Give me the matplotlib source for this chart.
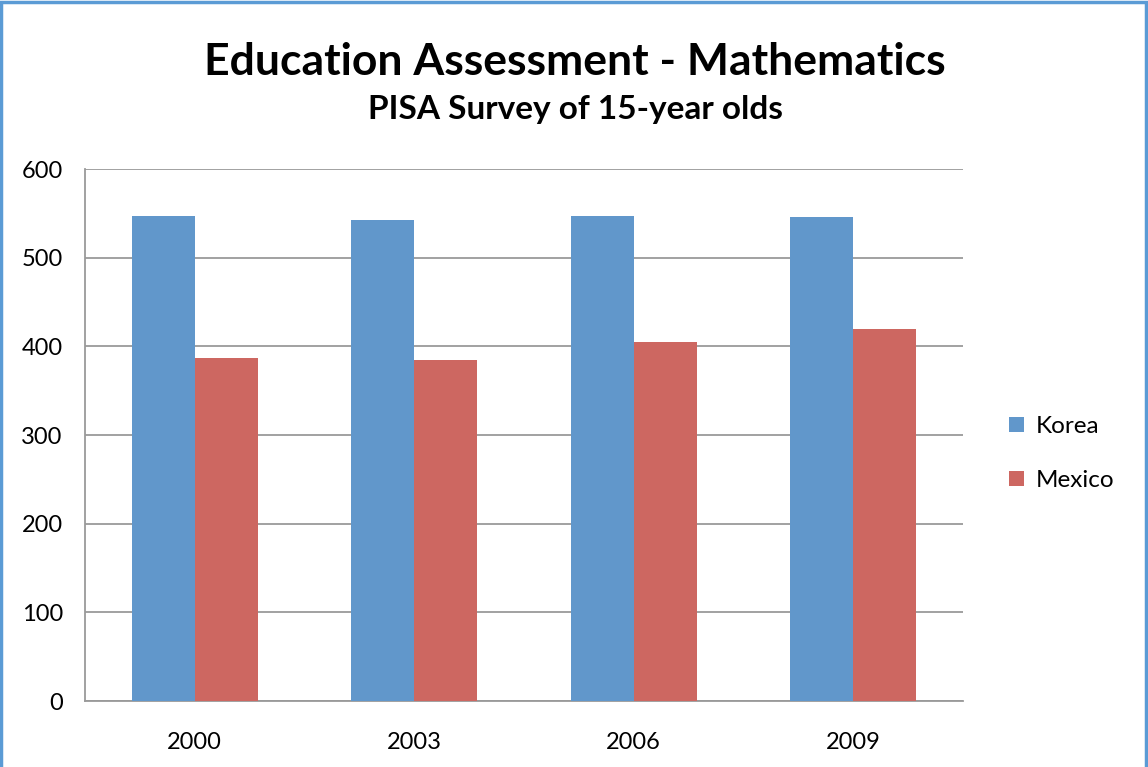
import matplotlib.pyplot as plt
import numpy as np
from matplotlib.patches import Rectangle

# data
years = ["2000", "2003", "2006", "2009"]
korea = [547, 542, 547, 546]
mexico = [387, 385, 405, 419]

plt.rcParams['font.family'] = ['Lato', 'DejaVu Sans']

fig = plt.figure(figsize=(11.48, 7.67), dpi=100)
ax = fig.add_axes([85 / 1148, 1 - 701 / 767, 878 / 1148, 532 / 767])

x = np.arange(len(years))
w = 0.287
ax.bar(x - w / 2, korea, w, color="#6197CB", label="Korea", zorder=3)
ax.bar(x + w / 2, mexico, w, color="#CD6761", label="Mexico", zorder=3)

ax.set_xlim(-0.5, len(years) - 0.5)
ax.set_ylim(0, 600)
ax.set_yticks(range(0, 601, 100))
ax.set_xticks(x)
ax.set_xticklabels(years)
ax.tick_params(axis="both", length=0, labelsize=17)
ax.tick_params(axis="y", pad=16)
ax.tick_params(axis="x", pad=22)
ax.grid(axis="y", color="#9a9a9a", linewidth=1.3, zorder=0)

for side in ["top", "right"]:
    ax.spines[side].set_visible(False)
for side in ["left", "bottom"]:
    ax.spines[side].set_color("#9a9a9a")
    ax.spines[side].set_linewidth(1.3)

ax.legend(loc="center left", bbox_to_anchor=(1.028, 0.465), frameon=False,
          fontsize=17.5, handlelength=0.6, handleheight=0.6,
          labelspacing=1.35, handletextpad=0.5)

fig.text(575 / 1148, 1 - 62 / 767,
         "Education Assessment - Mathematics",
         ha="center", va="center", fontsize=32, fontweight="bold")
fig.text(575 / 1148, 1 - 110 / 767,
         "PISA Survey of 15-year olds",
         ha="center", va="center", fontsize=24, fontweight="bold")

# outer chart border
fig.patches.append(Rectangle((0.001, -0.01), 0.997, 1.0075,
                             transform=fig.transFigure, fill=False,
                             edgecolor="#5B9BD5", linewidth=2.5))

fig.savefig("out.png", dpi=100)
